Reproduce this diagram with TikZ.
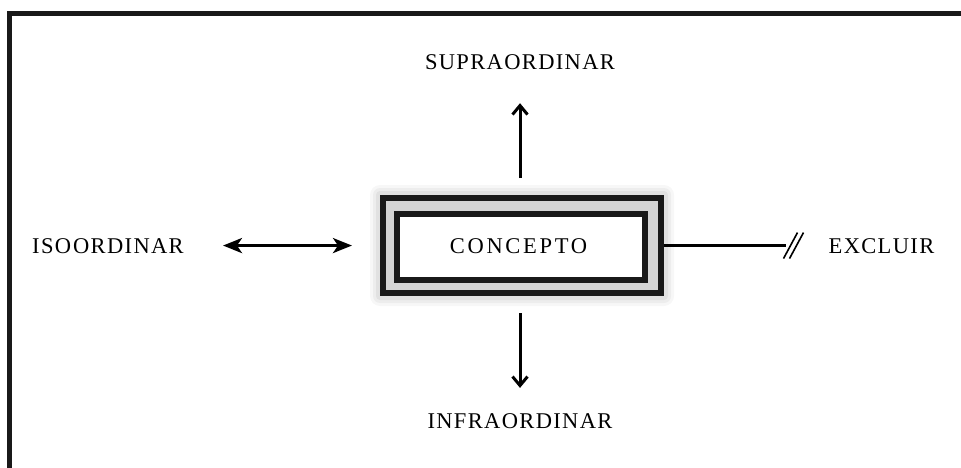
\documentclass[tikz,border=0pt]{standalone}
\usepackage{fontspec}
\setmainfont{Liberation Serif}[LetterSpace=6]
\usetikzlibrary{arrows.meta, backgrounds}
\tikzstyle{rotulo}=
[
	font=\fontsize{22.5}{27}\selectfont
	, inner sep=0pt
	, text depth=0pt
	, anchor=base
]
\tikzstyle{cajaext}=
[
	rectangle
	, minimum width=278pt
	, minimum height=95pt
	, line width=6pt
	, draw=black!90
	, fill=black!17
]
\tikzstyle{cajaint}=
[
	rectangle
	, minimum width=247pt
	, minimum height=66pt
	, line width=6pt
	, draw=black!90
	, fill=white
	, font=\fontsize{22.5}{27}\selectfont\addfontfeature{LetterSpace=12}
]
\tikzstyle{flecha} = [line width=3pt,-{Straight Barb[length=9pt,width=15pt]}]
\tikzstyle{doble} = [line width=3pt,{Stealth[length=19pt,width=15pt,inset=5pt]}-{Stealth[length=19pt,width=15pt,inset=5pt]}]
\tikzstyle{linea} = [line width=3pt,-]
\tikzstyle{corte} = [line width=1.6pt]
\tikzstyle{marco} = [line width=5pt,draw=black!90]

\begin{document}
\begin{tikzpicture}[x=1pt,y=-1pt]
\useasboundingbox (0,0) rectangle (961,468);

% marco abierto
\draw[marco] (9.5,468) -- (9.5,14) -- (961,14);

\node(concepto)[cajaext] at (522,245.5) {};
\node(nucleo)[cajaint, text width=241pt, align=center] at (521,246.5) {\hspace*{-5pt}CONCEPTO};

\node(supra)[rotulo] at (520,70) {SUPRAORDINAR};
\node(infra)[rotulo] at (520,428) {INFRAORDINAR};
\node(iso)[rotulo] at (108,253) {ISO\kern2pt ORDINAR};
\node(excluir)[rotulo] at (881.5,253) {EXCLUIR};

% sombra
\begin{scope}[on background layer]
\foreach \s/\o in {10/0.03,7/0.04,4/0.05}
	\fill[black,opacity=\o,rounded corners=\s pt] ([shift={(-\s,-\s)}]concepto.north west) rectangle ([shift={(\s,\s)}]concepto.south east);
\end{scope}

\draw[flecha,shorten <=17pt,shorten >=33pt](concepto.north -| supra.south)--(supra.south);
\draw[flecha,shorten <=17pt,shorten >=25pt](concepto.south -| infra.north)--(infra.north);
\draw[doble,shorten <=39pt,shorten >=28pt](iso.east)--(iso.east -| concepto.west);

\coordinate(tajo) at ([xshift=-43pt]excluir.west);
\draw[linea](concepto.east |- tajo)--(tajo);
\draw[corte]([shift={(-2,13)}]tajo)--([shift={(12,-13)}]tajo);
\draw[corte]([shift={(4,13)}]tajo)--([shift={(18,-13)}]tajo);

\end{tikzpicture}
\end{document}
